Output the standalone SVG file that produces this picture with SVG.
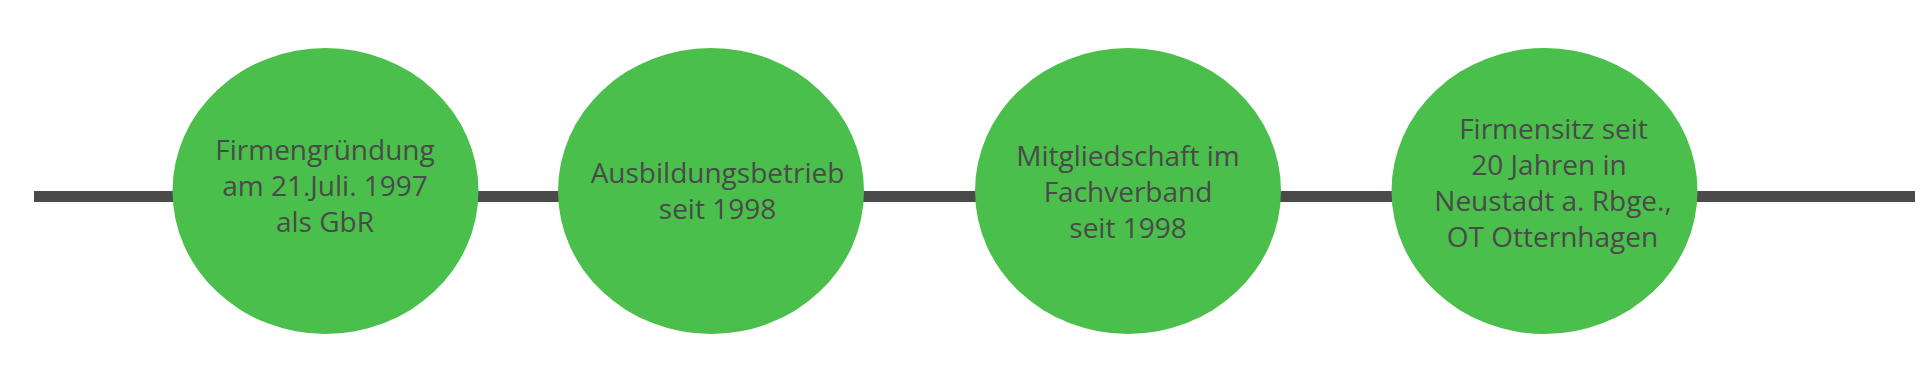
<svg xmlns="http://www.w3.org/2000/svg" width="1920" height="384" viewBox="0 0 1920 384">
<style>
.node ellipse{fill:#4bbf4b}
.node text{font-family:"Open Sans","Noto Sans","Liberation Sans",sans-serif;font-size:28px;fill:#4a4a4a;text-anchor:middle}
.conn{fill:#4a4a4a}
</style>
<rect width="1920" height="384" fill="#ffffff"/>
<g id="connectors">
<rect class="conn" x="34" y="191" width="1881" height="11"/>
</g>
<g id="node1" class="node">
<ellipse cx="325.5" cy="191" rx="153" ry="143"/>
<text x="325" y="160">Firmengründung</text>
<text x="325" y="196">am 21.Juli. 1997</text>
<text x="325" y="232">als GbR</text>
</g>
<g id="node2" class="node">
<ellipse cx="711" cy="191" rx="153" ry="143"/>
<text x="717.5" y="183">Ausbildungsbetrieb</text>
<text x="717.5" y="219">seit 1998</text>
</g>
<g id="node3" class="node">
<ellipse cx="1128" cy="191" rx="153" ry="143"/>
<text x="1128" y="166">Mitgliedschaft im</text>
<text x="1128" y="202">Fachverband</text>
<text x="1128" y="238">seit 1998</text>
</g>
<g id="node4" class="node">
<ellipse cx="1544.5" cy="191" rx="153" ry="143"/>
<text x="1553.5" y="139">Firmensitz seit</text>
<text x="1549" y="175">20 Jahren in</text>
<text x="1553" y="211">Neustadt a. Rbge.,</text>
<text x="1552.5" y="247">OT Otternhagen</text>
</g>
</svg>
